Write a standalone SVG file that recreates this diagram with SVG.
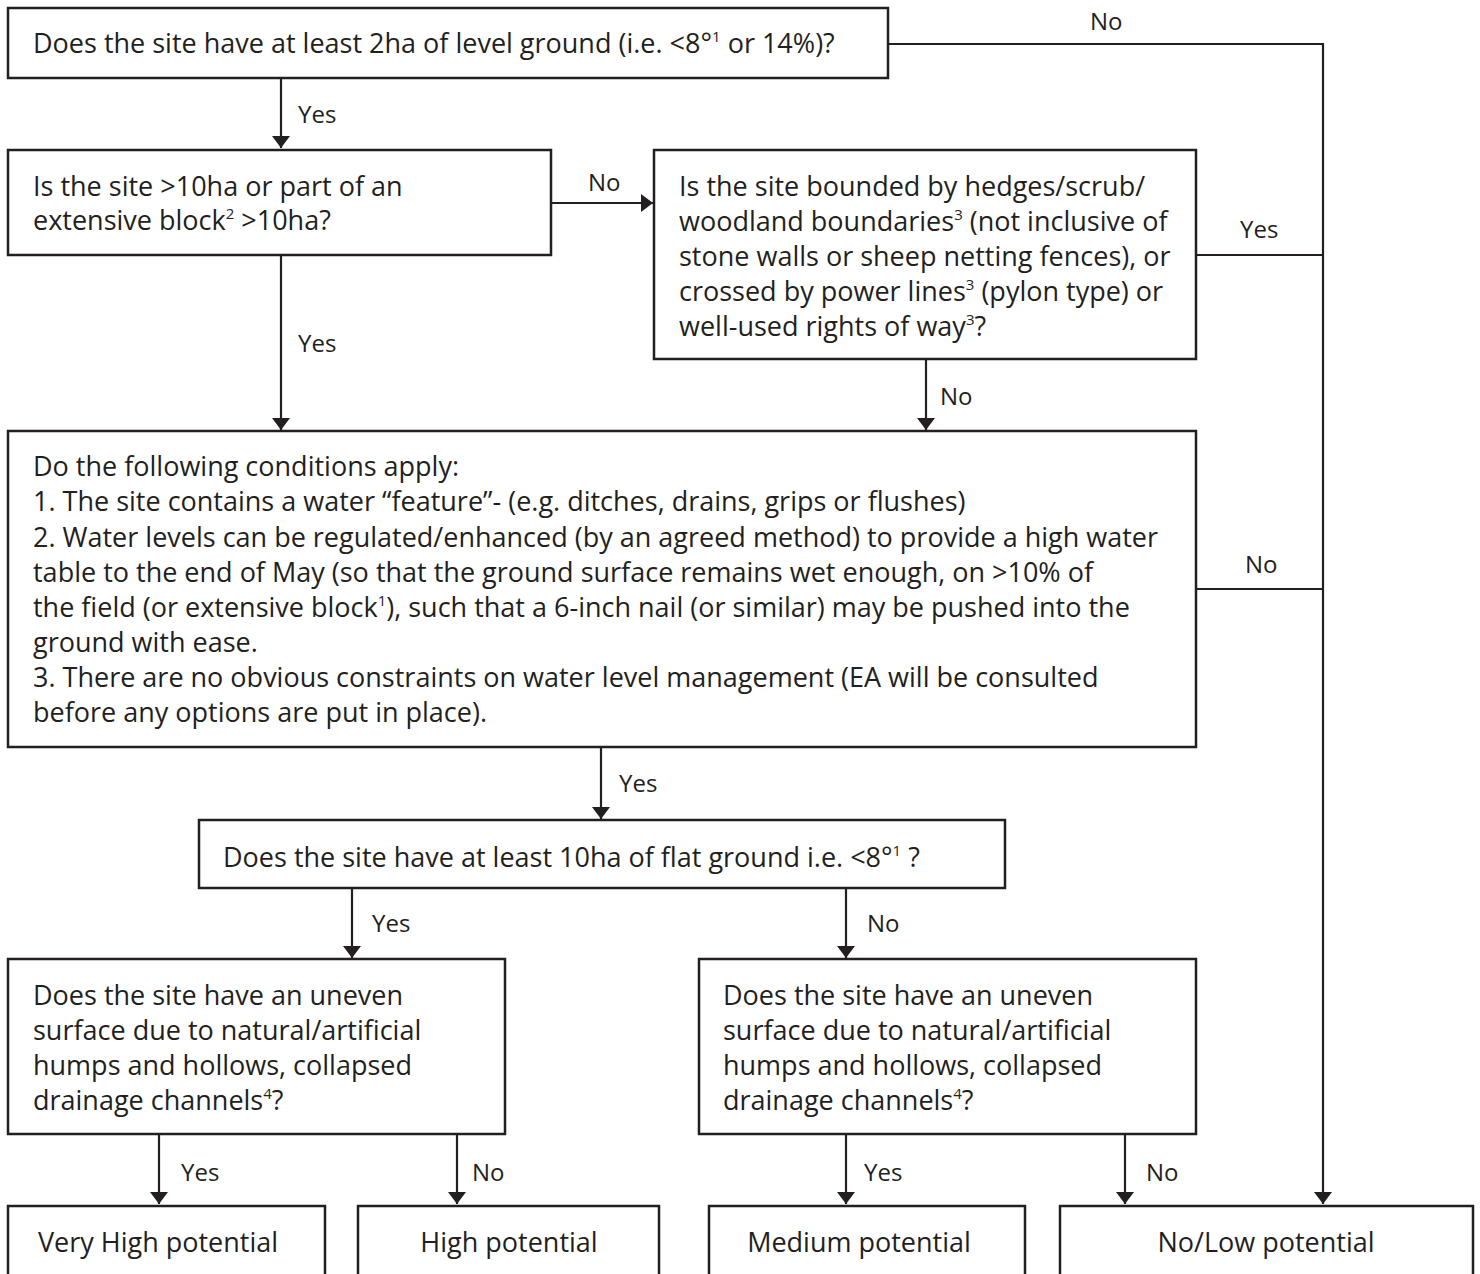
<svg xmlns="http://www.w3.org/2000/svg" width="1480" height="1274" viewBox="0 0 1480 1274">
<style>
.box{fill:#fff;stroke:#231f20;stroke-width:2.5}
.t{font-family:"Open Sans","Liberation Sans",sans-serif;font-size:27px;fill:#231f20}
.lbl{font-family:"Open Sans","Liberation Sans",sans-serif;font-size:24px;fill:#231f20}
.c{text-anchor:middle}
.ln{fill:none;stroke:#231f20;stroke-width:2.2}
</style>
<defs>
<marker id="ah" viewBox="0 0 12 18" refX="12" refY="9" markerWidth="12" markerHeight="18" markerUnits="userSpaceOnUse" orient="auto">
<path d="M0,0 L12,9 L0,18 Z" fill="#231f20"/>
</marker>
</defs>
<rect width="1480" height="1274" fill="#fff"/>

<g id="connectors">
<path class="ln" d="M888,44 H1323 V1204" marker-end="url(#ah)"/>
<path class="ln" d="M281,78 V148" marker-end="url(#ah)"/>
<path class="ln" d="M551,203 H653" marker-end="url(#ah)"/>
<path class="ln" d="M281,255 V430" marker-end="url(#ah)"/>
<path class="ln" d="M926,359 V430" marker-end="url(#ah)"/>
<path class="ln" d="M1196,255 H1323"/>
<path class="ln" d="M1196,589 H1323"/>
<path class="ln" d="M601,747 V819" marker-end="url(#ah)"/>
<path class="ln" d="M352,888 V958" marker-end="url(#ah)"/>
<path class="ln" d="M846,888 V958" marker-end="url(#ah)"/>
<path class="ln" d="M159,1134 V1204" marker-end="url(#ah)"/>
<path class="ln" d="M457,1134 V1204" marker-end="url(#ah)"/>
<path class="ln" d="M846,1134 V1204" marker-end="url(#ah)"/>
<path class="ln" d="M1125,1134 V1204" marker-end="url(#ah)"/>
<text class="lbl" x="1090" y="30">No</text>
<text class="lbl" x="298" y="123">Yes</text>
<text class="lbl" x="588" y="191">No</text>
<text class="lbl" x="1240" y="238">Yes</text>
<text class="lbl" x="298" y="352">Yes</text>
<text class="lbl" x="940" y="405">No</text>
<text class="lbl" x="1245" y="573">No</text>
<text class="lbl" x="619" y="792">Yes</text>
<text class="lbl" x="372" y="932">Yes</text>
<text class="lbl" x="867" y="932">No</text>
<text class="lbl" x="181" y="1181">Yes</text>
<text class="lbl" x="472" y="1181">No</text>
<text class="lbl" x="864" y="1181">Yes</text>
<text class="lbl" x="1146" y="1181">No</text>
</g>

<g id="q1">
<rect class="box" x="8" y="8" width="880" height="70"/>
<text class="t" x="33" y="53">Does the site have at least 2ha of level ground (i.e. &lt;8°<tspan font-size="15" dy="-11">1</tspan><tspan dy="11"> or 14%)?</tspan></text>
</g>

<g id="q2">
<rect class="box" x="8" y="150" width="543" height="105"/>
<text class="t" x="33" y="196">Is the site &gt;10ha or part of an</text>
<text class="t" x="33" y="230">extensive block<tspan font-size="15" dy="-11">2</tspan><tspan dy="11"> &gt;10ha?</tspan></text>
</g>

<g id="q3">
<rect class="box" x="654" y="150" width="542" height="209"/>
<text class="t" x="679" y="196">Is the site bounded by hedges/scrub/</text>
<text class="t" x="679" y="231">woodland boundaries<tspan font-size="15" dy="-11">3</tspan><tspan dy="11"> (not inclusive of</tspan></text>
<text class="t" x="679" y="266">stone walls or sheep netting fences), or</text>
<text class="t" x="679" y="301">crossed by power lines<tspan font-size="15" dy="-11">3</tspan><tspan dy="11"> (pylon type) or</tspan></text>
<text class="t" x="679" y="336">well-used rights of way<tspan font-size="15" dy="-11">3</tspan><tspan dy="11">?</tspan></text>
</g>

<g id="q4">
<rect class="box" x="8" y="431" width="1188" height="316"/>
<text class="t" x="33" y="476">Do the following conditions apply:</text>
<text class="t" x="33" y="511">1. The site contains a water “feature”- (e.g. ditches, drains, grips or flushes)</text>
<text class="t" x="33" y="547">2. Water levels can be regulated/enhanced (by an agreed method) to provide a high water</text>
<text class="t" x="33" y="582">table to the end of May (so that the ground surface remains wet enough, on &gt;10% of</text>
<text class="t" x="33" y="617">the field (or extensive block<tspan font-size="15" dy="-11">1</tspan><tspan dy="11">), such that a 6-inch nail (or similar) may be pushed into the</tspan></text>
<text class="t" x="33" y="652">ground with ease.</text>
<text class="t" x="33" y="687">3. There are no obvious constraints on water level management (EA will be consulted</text>
<text class="t" x="33" y="722">before any options are put in place).</text>
</g>

<g id="q5">
<rect class="box" x="199" y="820" width="806" height="68"/>
<text class="t" x="223" y="867">Does the site have at least 10ha of flat ground i.e. &lt;8°<tspan font-size="15" dy="-11">1</tspan><tspan dy="11"> ?</tspan></text>
</g>

<g id="q6">
<rect class="box" x="8" y="959" width="497" height="175"/>
<text class="t" x="33" y="1005">Does the site have an uneven</text>
<text class="t" x="33" y="1040">surface due to natural/artificial</text>
<text class="t" x="33" y="1075">humps and hollows, collapsed</text>
<text class="t" x="33" y="1110">drainage channels<tspan font-size="15" dy="-11">4</tspan><tspan dy="11">?</tspan></text>
</g>

<g id="q7">
<rect class="box" x="699" y="959" width="497" height="175"/>
<text class="t" x="723" y="1005">Does the site have an uneven</text>
<text class="t" x="723" y="1040">surface due to natural/artificial</text>
<text class="t" x="723" y="1075">humps and hollows,  collapsed</text>
<text class="t" x="723" y="1110">drainage channels<tspan font-size="15" dy="-11">4</tspan><tspan dy="11">?</tspan></text>
</g>

<g id="r1">
<rect class="box" x="8" y="1206" width="317" height="100"/>
<text class="t c" x="158" y="1252">Very High potential</text>
</g>
<g id="r2">
<rect class="box" x="358" y="1206" width="301" height="100"/>
<text class="t c" x="509" y="1252">High potential</text>
</g>
<g id="r3">
<rect class="box" x="709" y="1206" width="316" height="100"/>
<text class="t c" x="859" y="1252">Medium potential</text>
</g>
<g id="r4">
<rect class="box" x="1060" y="1206" width="413" height="100"/>
<text class="t c" x="1266" y="1252">No/Low potential</text>
</g>
</svg>
